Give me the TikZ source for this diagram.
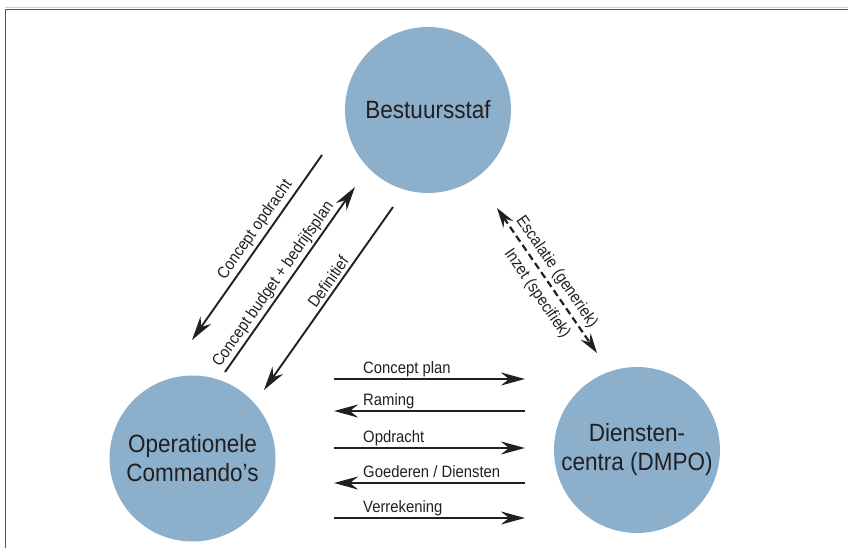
\documentclass[tikz,border=0pt]{standalone}
\usepackage{fontspec}
\setmainfont[FakeStretch=0.9]{Liberation Sans}
\usetikzlibrary{arrows.meta}

\definecolor{hubfill}{HTML}{8CB0CC}
\definecolor{inktext}{HTML}{231F20}
\definecolor{framedark}{HTML}{1A6A9A}
\definecolor{framelight}{HTML}{BCD6E8}

\tikzset{
  hub/.style={circle, fill=hubfill, minimum size=166pt, inner sep=0pt,
    align=center, text=inktext, font=\fontsize{25}{29}\selectfont},
  flow/.style={line width=1.9pt, draw=inktext,
    -{Stealth[length=24pt, width=13pt, inset=8pt]}},
  twoway/.style={line width=2.2pt, draw=inktext, dash pattern=on 7pt off 4pt,
    {Stealth[length=20pt, width=12pt, inset=7pt]}-{Stealth[length=20pt, width=12pt, inset=7pt]}},
  flowlabel/.style={font=\fontsize{16.5}{19}\selectfont, text=inktext},
}

\begin{document}
\begin{tikzpicture}[x=1pt, y=-1pt]
\useasboundingbox (0,0) rectangle (848,548);

% frame lines
\draw[framelight, line width=1pt] (5,7.8) -- (848,7.8);
\draw[framedark, line width=1.3pt] (5.5,548) -- (5.5,9.6) -- (848,9.6);

% organisation units
\node[hub] (staf) at (428,110) {Bestuursstaf};
\node[hub] (opc) at (192.5,458.5) {Operationele\\Commando's};
\node[hub] (dc) at (637,450) {Diensten-\\centra (DMPO)};

% diagonal flows between staff and commands
\coordinate (co1) at (322,155);  \coordinate (co2) at (192,340);
\coordinate (cb1) at (225,372);  \coordinate (cb2) at (355,187);
\coordinate (df1) at (393,207);  \coordinate (df2) at (264,390);
\draw[flow] (co1) -- node[flowlabel, pos=0.44, sloped, above, inner sep=3pt] {Concept opdracht} (co2);
\draw[flow] (cb1) -- node[flowlabel, pos=0.44, sloped, above, inner sep=2pt] {Concept budget + bedrijfsplan} (cb2);
\draw[flow] (df1) -- node[flowlabel, pos=0.44, sloped, above, inner sep=3pt] {Definitief} (df2);

% escalation between staff and service centres
\coordinate (es1) at (497,208);  \coordinate (es2) at (597,353);
\draw[twoway] (es1) -- node[flowlabel, pos=0.49, sloped, above, inner sep=4pt] {Escalatie (generiek)}
  node[flowlabel, pos=0.53, sloped, below, inner sep=7pt] {Inzet (specifiek)} (es2);

% horizontal flows between commands and service centres
\foreach \yy/\dir/\txt [count=\i] in {
    379/1/{Concept plan},
    411/0/{Raming},
    448/1/{Opdracht},
    483/0/{Goederen / Diensten},
    518/1/{Verrekening}} {
  \coordinate (hl\i) at (334,\yy);
  \coordinate (hr\i) at (525,\yy);
  \ifnum\dir=1
    \draw[flow] (hl\i) -- (hr\i);
  \else
    \draw[flow] (hr\i) -- (hl\i);
  \fi
  \node[flowlabel, anchor=base west, inner sep=0pt] (lab\i) at (363,\yy-5.5) {\txt};
}
\end{tikzpicture}
\end{document}
